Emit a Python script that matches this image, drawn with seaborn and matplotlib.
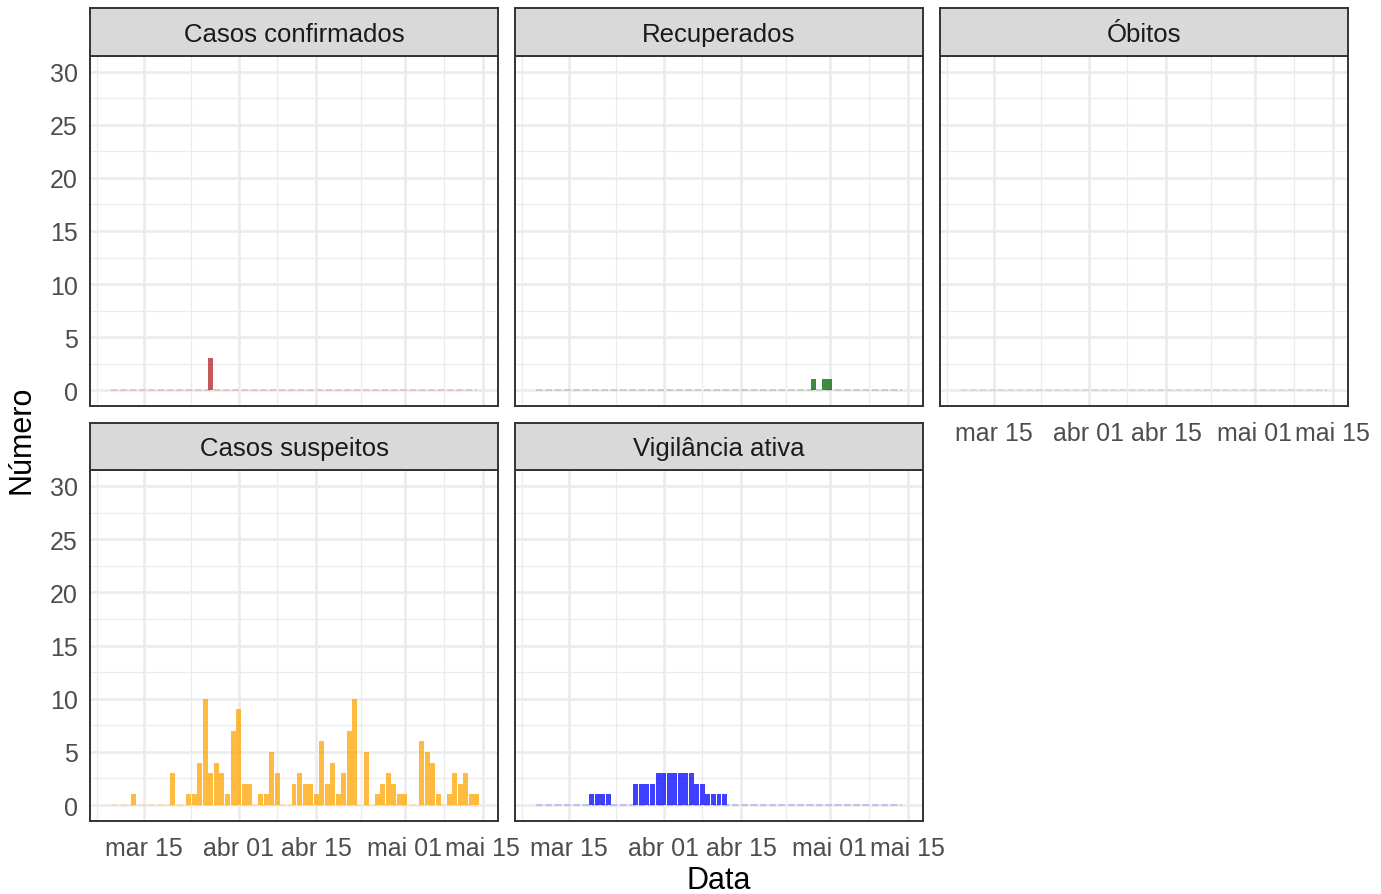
import numpy as np
import pandas as pd
import matplotlib
matplotlib.use("Agg")
import matplotlib.pyplot as plt
import matplotlib.dates as mdates
import seaborn as sns

# ---------------- data ----------------
start_date = "2020-03-09"
n_days = 67
dates = pd.date_range(start_date, periods=n_days, freq="D")

confirmados = [0] * 67
confirmados[18] = 3

recuperados = [0] * 67
recuperados[50] = 1
recuperados[52] = 1
recuperados[53] = 1

obitos = [0] * 67

suspeitos = [0, 0, 0, 0, 1, 0, 0, 0, 0, 0,
             0, 3, 0, 0, 1, 1, 4, 10, 3, 4,
             3, 1, 7, 9, 2, 2, 0, 1, 1, 5,
             3, 0, 0, 2, 3, 2, 2, 1, 6, 2,
             4, 1, 3, 7, 10, 0, 5, 0, 1, 2,
             3, 2, 1, 1, 0, 0, 6, 5, 4, 1,
             0, 1, 3, 2, 3, 1, 1]

vigilancia = [0, 0, 0, 0, 0, 0, 0, 0, 0, 0,
              1, 1, 1, 1, 0, 0, 0, 0, 2, 2,
              2, 2, 3, 3, 3, 3, 3, 3, 3, 2,
              2, 1, 1, 1, 1, 0, 0, 0, 0, 0,
              0, 0, 0, 0, 0, 0, 0, 0, 0, 0,
              0, 0, 0, 0, 0, 0, 0, 0, 0, 0,
              0, 0, 0, 0, 0, 0, 0]

titles = ["Casos confirmados", "Recuperados", "Óbitos", "Casos suspeitos", "Vigilância ativa"]
series = [confirmados, recuperados, obitos, suspeitos, vigilancia]
colors = ["firebrick", "darkgreen", "gray", "orange", "blue"]

x_tick_dates = ["2020-03-15", "2020-04-01", "2020-04-15", "2020-05-01", "2020-05-15"]
x_tick_labels = ["mar 15", "abr 01", "abr 15", "mai 01", "mai 15"]
y_ticks = [0, 5, 10, 15, 20, 25, 30]

# ---------------- style ----------------
sns.set_theme(style="white")
plt.rcParams['font.family'] = ['Liberation Sans', 'DejaVu Sans']

W, H = 1381, 895
fig = plt.figure(figsize=(W / 100, H / 100), dpi=100)


def px_axes(x0, y0, x1, y1):
    return fig.add_axes([x0 / W, 1 - y1 / H, (x1 - x0) / W, (y1 - y0) / H])


cols = [(90, 498), (515, 923), (940, 1348)]
rows = [(9, 57, 407), (424, 471, 822)]
positions = [(0, 0), (0, 1), (0, 2), (1, 0), (1, 1)]

dnum = mdates.date2num(dates)
xt = mdates.date2num(pd.to_datetime(x_tick_dates))
x_minor = [xt[0] - (xt[1] - xt[0]) / 2] + [(a + b) / 2 for a, b in zip(xt[:-1], xt[1:])]
y_minor = [v + 2.5 for v in y_ticks[:-1]]

span_lo = dnum[0] - 0.45
span_hi = dnum[-1] + 0.45
exp = 0.05 * (span_hi - span_lo)
xlim = (span_lo - exp, span_hi + exp)
ylim = (-1.5, 31.5)

dark = "#333333"
for k, (title, vals, col) in enumerate(zip(titles, series, colors)):
    r, c = positions[k]
    x0, x1 = cols[c]
    stop, ptop, pbot = rows[r]
    ax = px_axes(x0, ptop, x1, pbot)
    df = pd.DataFrame({"date": dnum, "value": vals})
    # faint baseline
    ax.plot(df["date"], np.zeros(len(df)), color=col, alpha=0.22, lw=1.2,
            dashes=(4, 1.6), zorder=2)
    if sum(vals) > 0:
        sns.histplot(data=df, x="date", weights="value", discrete=True, shrink=0.9,
                     color=col, alpha=0.75, linewidth=0, ax=ax, zorder=3)
    ax.set_xlim(*xlim)
    ax.set_ylim(*ylim)
    ax.set_xticks(xt)
    ax.set_xticks(x_minor, minor=True)
    ax.set_yticks(y_ticks)
    ax.set_yticks(y_minor, minor=True)
    ax.set_axisbelow(True)
    ax.grid(which="major", color="#EBEBEB", lw=1.8)
    ax.grid(which="minor", color="#EBEBEB", lw=0.9)
    for s in ax.spines.values():
        s.set_color(dark)
        s.set_linewidth(1.4)
        s.set_zorder(5)
    ax.set_xlabel("")
    ax.set_ylabel("")
    ax.tick_params(which="major", length=5, width=1.4, color=dark,
                   labelsize=18, labelcolor="#4D4D4D", pad=4)
    ax.tick_params(axis="x", which="major", pad=5.5)
    ax.tick_params(which="minor", length=0)
    show_x = (r == 1) or (k == 2)
    show_y = (c == 0)
    if show_x:
        ax.set_xticklabels(x_tick_labels)
    else:
        ax.tick_params(axis="x", which="both", bottom=False, labelbottom=False)
    if show_y:
        ax.set_yticklabels([str(v) for v in y_ticks])
    else:
        ax.tick_params(axis="y", which="both", left=False, labelleft=False)

    st = px_axes(x0, stop, x1, ptop)
    st.set_facecolor("#D9D9D9")
    st.set_xticks([])
    st.set_yticks([])
    for s in st.spines.values():
        s.set_color(dark)
        s.set_linewidth(1.4)
    st.text(0.5, 0.46, title, ha="center", va="center", fontsize=18.5,
            color="#1A1A1A", transform=st.transAxes)

fig.text(22 / W, 1 - 440 / H, "Número", rotation=90, ha="center", va="center",
         fontsize=22, color="black")
fig.text(719 / W, 1 - 881 / H, "Data", ha="center", va="center",
         fontsize=22, color="black")

fig.savefig("out.png", dpi=100, facecolor="white")
